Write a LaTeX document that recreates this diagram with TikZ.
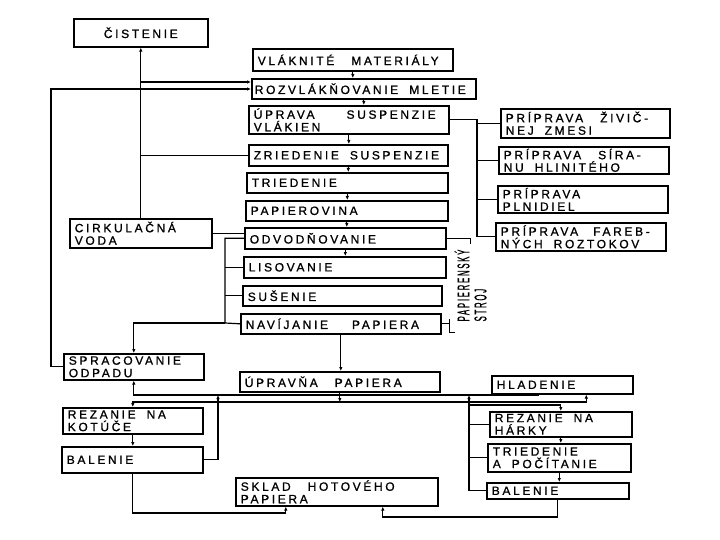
\documentclass[tikz,border=0pt]{standalone}
\usepackage{fontspec}
\setmainfont{Liberation Sans}[LetterSpace=22,FakeBold=1]
\usetikzlibrary{arrows.meta}

\newcommand{\mz}{\hspace{11pt}}
\tikzset{
  blok/.style={draw, line width=1.6pt, anchor=north west, align=left,
    inner xsep=5pt, inner ysep=0pt, font=\fontsize{12}{12.5}\selectfont},
  sip/.style={-{Latex[length=4pt,width=3.5pt]}},
}

\begin{document}
\begin{tikzpicture}[x=1pt, y=-1pt, line width=1.2pt]
    \useasboundingbox (0,0) rectangle (720,540);
    % main line
    \node[blok, text width=124pt, minimum height=28pt, align=center] (cist) at (73,18) {ČISTENIE};
    \node[blok, text width=190pt, minimum height=22pt] (vlak) at (252,48) {VLÁKNITÉ\hspace{17pt}MATERIÁLY};
    \node[blok, text width=218pt, minimum height=20pt, inner xsep=3pt] (rozv) at (251,78) {ROZVLÁKŇOVANIE\mz MLETIE};
    \node[blok, text width=190pt, minimum height=28pt] (uprava) at (248,105) {ÚPRAVA\hspace{32pt}SUSPENZIE\\VLÁKIEN};
    \node[blok, text width=189pt, minimum height=21pt] (zried) at (248,144) {ZRIEDENIE\mz SUSPENZIE};
    \node[blok, text width=191pt, minimum height=20pt] (tried) at (246,172) {TRIEDENIE};
    \node[blok, text width=192pt, minimum height=20pt] (papier) at (245,200) {PAPIEROVINA};
    \node[blok, text width=191pt, minimum height=21pt] (odvod) at (244,227) {ODVODŇOVANIE};
    \node[blok, text width=192pt, minimum height=21pt] (lis) at (243,256) {LISOVANIE};
    \node[blok, text width=189pt, minimum height=20pt] (sus) at (242,285) {SUŠENIE};
    \node[blok, text width=190pt, minimum height=20pt] (navij) at (240,313) {NAVÍJANIE\hspace{24pt}PAPIERA};
    \node[blok, text width=132pt, minimum height=29pt] (cirk) at (69,218) {CIRKULAČNÁ\\VODA};
    % additives
    \node[blok, text width=159pt, minimum height=29pt] (ziv) at (500,108) {PRÍPRAVA\hspace{17pt}ŽIVIČ-\\NEJ\mz ZMESI};
    \node[blok, text width=160pt, minimum height=27pt] (siran) at (498,146) {PRÍPRAVA\hspace{17pt}SÍRA-\\NU\mz HLINITÉHO};
    \node[blok, text width=160pt, minimum height=27pt] (plnid) at (497,185) {PRÍPRAVA\\PLNIDIEL};
    \node[blok, text width=160pt, minimum height=28pt] (fareb) at (495,222) {PRÍPRAVA\hspace{15pt}FAREB-\\NÝCH\mz ROZTOKOV};
    % finishing
    \node[blok, text width=130pt, minimum height=26pt] (sprac) at (63,353) {SPRACOVANIE\\ODPADU};
    \node[blok, text width=190pt, minimum height=20pt] (upravna) at (239,371) {ÚPRAVŇA\hspace{17pt}PAPIERA};
    \node[blok, text width=131pt, minimum height=18pt] (hlad) at (491,375) {HLADENIE};
    \node[blok, text width=130pt, minimum height=26pt] (rezkot) at (62,407) {REZANIE\mz NA\\KOTÚČE};
    \node[blok, text width=131pt, minimum height=26pt] (balL) at (61,446) {BALENIE};
    \node[blok, text width=132pt, minimum height=25pt] (rezhar) at (489,411) {REZANIE\mz NA\\HÁRKY};
    \node[blok, text width=133pt, minimum height=28pt] (triedpoc) at (487,443) {TRIEDENIE\\A\mz POČÍTANIE};
    \node[blok, text width=132pt, minimum height=16pt] (balR) at (486,482) {BALENIE};
    \node[blok, text width=192pt, minimum height=28pt] (sklad) at (235,477) {SKLAD\hspace{17pt}HOTOVÉHO\\PAPIERA};
    \node[rotate=90, anchor=north west, align=left, inner sep=0pt,
      font=\fontsize{17}{17}\selectfont] (stroj) at (454,322)
      {\scalebox{0.46}[1]{PAPIERENSKÝ}\\\scalebox{0.46}[1]{STROJ}};

    % arrows down the main line
    \foreach \a/\b in {vlak/rozv, rozv/uprava, uprava/zried, zried/tried, tried/papier, papier/odvod, odvod/lis}
        \draw[sip] (\a.south) -- (\a.south |- \b.north);
    \draw[sip] (navij.south) -- (navij.south |- upravna.north);

    % water and waste on the left
    \coordinate (voda) at (cist.south |- 0,82);
    \coordinate (odp) at (51,89);
    \draw[sip] (cirk.north) -- (cist.south);
    \draw[sip] (voda) -- (rozv.west |- voda);
    \draw[sip] (sprac.west) -| (odp) -- (rozv.west |- odp);
    \draw (cist.south |- zried.west) -- (zried.west);
    \draw (cirk.east) -- (cirk.east -| odvod.west);
    \coordinate (zber) at (225,323);
    \draw (odvod.west) -| (zber) -- (navij.west);
    \foreach \n in {lis, sus}
        \draw (\n.west) -- (\n.west -| zber);
    \draw[sip] (zber) -| (sprac.north);

    % paper machine bracket
    \draw (odvod.east) -- ++(24,0) -- ++(0,6);
    \draw (navij.east) -- ++(8,0) ++(0,-5) -- ++(0,14) -- ++(5,0);

    % additives bus
    \coordinate (pb) at (477,0);
    \draw (uprava.east) -- (uprava.east -| pb) |- (fareb.west);
    \foreach \n in {ziv, siran, plnid}
        \draw (\n.west) -- (\n.west -| pb);

    % waste line at the bottom
    \coordinate (odpL) at (218,395);
    \coordinate (odpR) at (469,395);
    \draw[sip] ([xshift=-24pt]hlad.south) |- (odpR) -- (odpL) -| (sprac.south);
    \draw[sip] (balL.east) -| (odpL);
    \draw[sip] (balR.west) -| (odpR);
    \foreach \n in {rezhar, triedpoc}
        \draw (\n.west) -- (\n.west -| odpR);

    % paper to the finishing steps
    \coordinate (rozd) at (upravna.south |- 0,402);
    \draw[sip] (upravna.south) -- (rozd);
    \draw[sip] (rozd) -| (rezkot.north);
    \draw[sip] (rozd) -| ([xshift=24pt]hlad.south);
    \draw[sip] (odpR |- rozd) -- ++(0,3) -| (rezhar.north);
    \draw[sip] (rezkot.south) -- (rezkot.south |- balL.north);
    \draw[sip] (rezhar.south) -- (rezhar.south |- triedpoc.north);
    \draw[sip] (triedpoc.south) -- (triedpoc.south |- balR.north);

    % to the store
    \coordinate (skL) at ([xshift=-51pt]sklad.south);
    \coordinate (skR) at ([xshift=46pt]sklad.south);
    \draw[sip] (balL.south) |- (skL |- 0,513) -- (skL);
    \draw[sip] (balR.south) |- (skR |- 0,517) -- (skR);
\end{tikzpicture}
\end{document}
